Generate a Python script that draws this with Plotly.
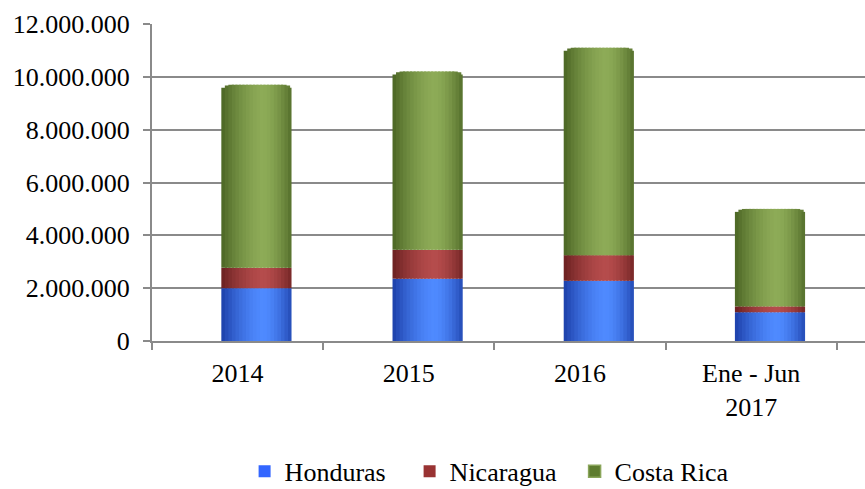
import plotly.graph_objects as go

# ---- data ----
categories = ["2014", "2015", "2016", "Ene - Jun<br>2017"]
honduras = [2000000, 2360000, 2280000, 1090000]
nicaragua = [770000, 1090000, 970000, 220000]
costa_rica = [6930000, 6750000, 7850000, 3690000]
y_ticks = [0, 2000000, 4000000, 6000000, 8000000, 10000000, 12000000]

series = [
    ("Honduras", honduras, "#1c3fa8", "#4f8aff", "#3366FF"),
    ("Nicaragua", nicaragua, "#6a2020", "#b54c4c", "#993333"),
    ("Costa Rica", costa_rica, "#4b6524", "#8dab57", "#5e7c2f"),
]

def hex2rgb(h):
    h = h.lstrip("#")
    return [int(h[i:i + 2], 16) for i in (0, 2, 4)]

def mix(c1, c2, f):
    a, b = hex2rgb(c1), hex2rgb(c2)
    return "rgb(%d,%d,%d)" % tuple(round(a[i] + (b[i] - a[i]) * f) for i in range(3))

def shade(t):
    p = 0.6
    if t < p:
        return max(0.0, 1 - ((p - t) / p) ** 1.6)
    return max(0.0, 1 - ((t - p) / (1 - p)) ** 1.6 * 0.85)

def cap_drop(t, radius_val=260000, frac=0.28):
    # rounded top of the cylinder (style only)
    d = abs(2 * t - 1)
    if d <= 1 - frac:
        return 0.0
    u = (d - (1 - frac)) / frac
    return radius_val * (1 - (1 - min(u, 1.0) ** 2) ** 0.5)

N = 20
bar_w = 0.41
bar_off = -0.095
strip_w = bar_w / N

fig = go.Figure()
base = [0] * len(categories)
for idx, (name, vals, dark, light, legend_col) in enumerate(series):
    top = idx == len(series) - 1
    for k in range(N):
        t = (k + 0.5) / N
        col = mix(dark, light, shade(t))
        if top:
            ys = [v - cap_drop(t) for v in vals]
        else:
            ys = vals
        w = strip_w * (1.6 if k < N - 1 else 1.0)
        fig.add_trace(go.Bar(
            x=categories, y=ys, base=base,
            width=w, offset=bar_off + k * strip_w,
            marker=dict(color=col, line=dict(width=0)),
            showlegend=False, hoverinfo="skip", legendgroup=name,
        ))
    fig.add_trace(go.Bar(
        x=[categories[0]], y=[None], name=name, legendgroup=name,
        marker=dict(color=legend_col,
                    line=dict(width=1.5, color="#8aa55a") if top else dict(width=0)),
    ))
    base = [b + v for b, v in zip(base, vals)]

grid_col = "#8a8a8a"
fig.update_layout(
    width=865, height=489,
    barmode="overlay",
    separators=",.",
    plot_bgcolor="white", paper_bgcolor="white",
    margin=dict(l=152, r=0, t=24, b=148),
    font=dict(family="Liberation Serif, Times New Roman, serif", size=26, color="black"),
    legend=dict(orientation="h", x=0.477, xanchor="center",
                yref="container", y=0.036, yanchor="middle",
                font=dict(size=26), entrywidth=120, itemclick=False),
    xaxis=dict(
        type="category", range=[-0.5, 3.665],
        showline=True, linecolor=grid_col, linewidth=2,
        ticks="outside", ticklen=7, tickwidth=2, tickcolor=grid_col,
        tickson="boundaries", showgrid=False, ticklabelstandoff=8,
        tickfont=dict(size=26),
    ),
    yaxis=dict(
        range=[0, 12000000], tickvals=y_ticks, tickformat=",.0f",
        showgrid=True, gridcolor=grid_col, gridwidth=2,
        showline=True, linecolor=grid_col, linewidth=2,
        ticks="outside", ticklen=7, tickwidth=2, tickcolor=grid_col,
        zeroline=False, ticklabelstandoff=8,
        tickfont=dict(size=26),
    ),
)

fig.write_html("out.html", config={"displayModeBar": False},
               post_script="document.body.style.margin='0';document.body.style.overflow='hidden';")
